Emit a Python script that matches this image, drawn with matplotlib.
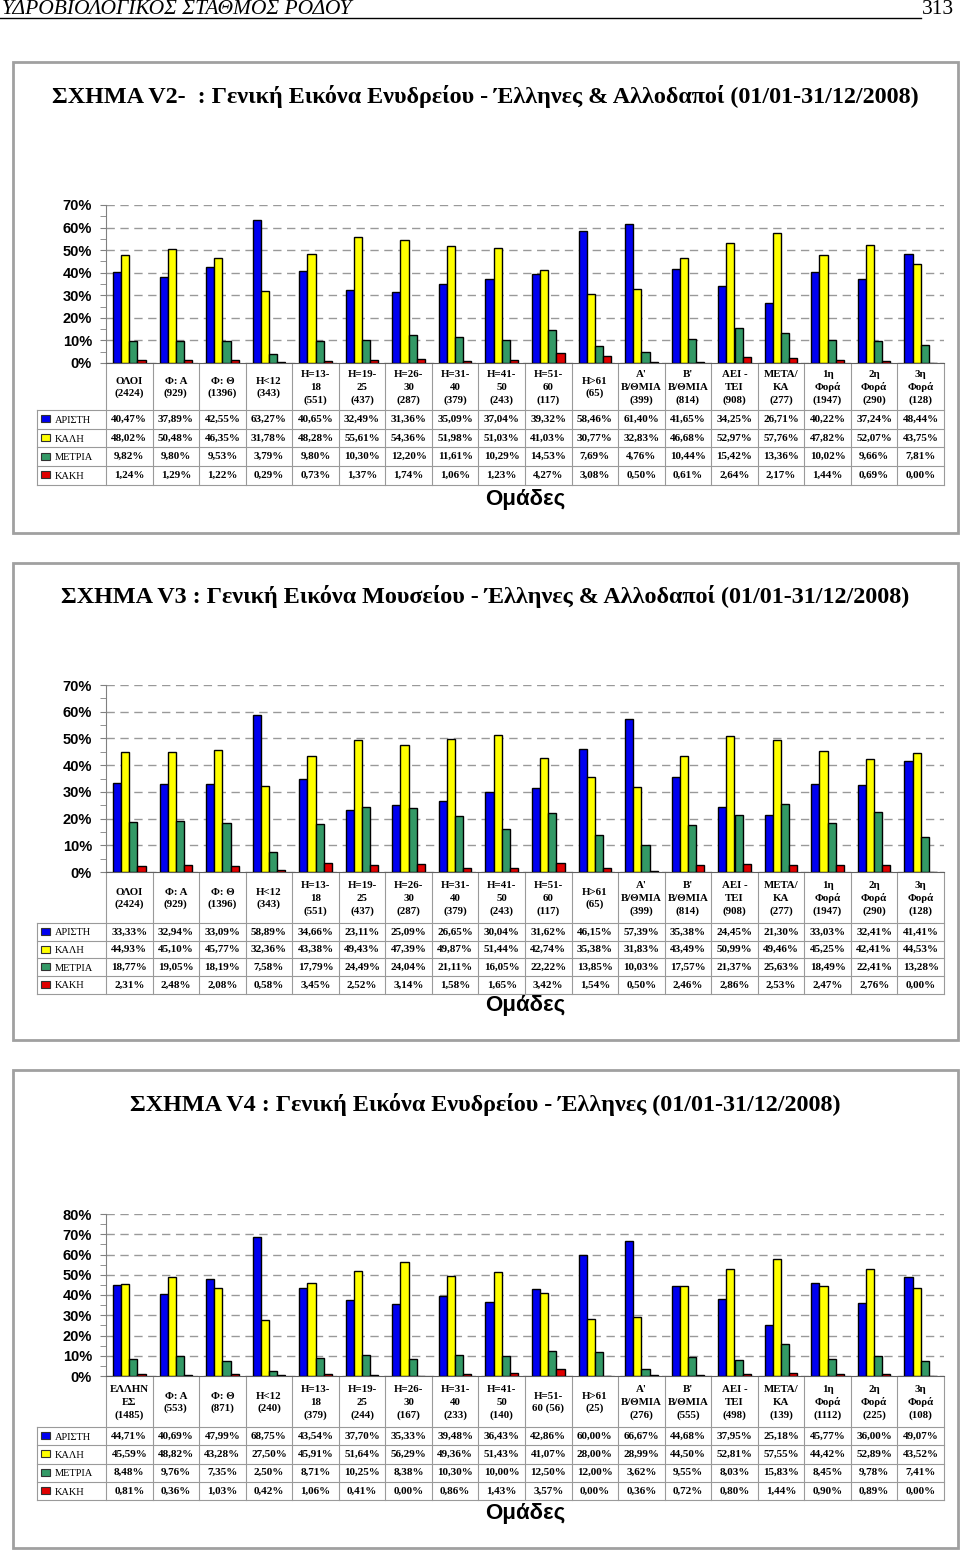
import numpy as np
import matplotlib.pyplot as plt
from matplotlib.patches import Rectangle

W, H = 960, 1550

rows = ["ΑΡΙΣΤΗ", "ΚΑΛΗ", "ΜΕΤΡΙΑ", "ΚΑΚΗ"]
colors = ["#0000F0", "#FFFF00", "#339966", "#E00000"]

# ---- ΣΧΗΜΑ V2 (Ενυδρείο, Έλληνες & Αλλοδαποί)
cats_v2 = ["ΟΛΟΙ\n(2424)", "Φ: Α\n(929)", "Φ: Θ\n(1396)", "Η<12\n(343)",
           "Η=13-\n18\n(551)", "Η=19-\n25\n(437)", "Η=26-\n30\n(287)",
           "Η=31-\n40\n(379)", "Η=41-\n50\n(243)", "Η=51-\n60\n(117)",
           "Η>61\n(65)", "Α'\nΒ/ΘΜΙΑ\n(399)", "Β'\nΒ/ΘΜΙΑ\n(814)",
           "ΑΕΙ -\nΤΕΙ\n(908)", "ΜΕΤΑ/\nΚΑ\n(277)", "1η\nΦορά\n(1947)",
           "2η\nΦορά\n(290)", "3η\nΦορά\n(128)"]
v2_aristi = [40.47, 37.89, 42.55, 63.27, 40.65, 32.49, 31.36, 35.09, 37.04,
             39.32, 58.46, 61.40, 41.65, 34.25, 26.71, 40.22, 37.24, 48.44]
v2_kali = [48.02, 50.48, 46.35, 31.78, 48.28, 55.61, 54.36, 51.98, 51.03,
           41.03, 30.77, 32.83, 46.68, 52.97, 57.76, 47.82, 52.07, 43.75]
v2_metria = [9.82, 9.80, 9.53, 3.79, 9.80, 10.30, 12.20, 11.61, 10.29,
             14.53, 7.69, 4.76, 10.44, 15.42, 13.36, 10.02, 9.66, 7.81]
v2_kaki = [1.24, 1.29, 1.22, 0.29, 0.73, 1.37, 1.74, 1.06, 1.23,
           4.27, 3.08, 0.50, 0.61, 2.64, 2.17, 1.44, 0.69, 0.00]

# ---- ΣΧΗΜΑ V3 (Μουσείο, Έλληνες & Αλλοδαποί)
cats_v3 = cats_v2
v3_aristi = [33.33, 32.94, 33.09, 58.89, 34.66, 23.11, 25.09, 26.65, 30.04,
             31.62, 46.15, 57.39, 35.38, 24.45, 21.30, 33.03, 32.41, 41.41]
v3_kali = [44.93, 45.10, 45.77, 32.36, 43.38, 49.43, 47.39, 49.87, 51.44,
           42.74, 35.38, 31.83, 43.49, 50.99, 49.46, 45.25, 42.41, 44.53]
v3_metria = [18.77, 19.05, 18.19, 7.58, 17.79, 24.49, 24.04, 21.11, 16.05,
             22.22, 13.85, 10.03, 17.57, 21.37, 25.63, 18.49, 22.41, 13.28]
v3_kaki = [2.31, 2.48, 2.08, 0.58, 3.45, 2.52, 3.14, 1.58, 1.65,
           3.42, 1.54, 0.50, 2.46, 2.86, 2.53, 2.47, 2.76, 0.00]

# ---- ΣΧΗΜΑ V4 (Ενυδρείο, Έλληνες)
cats_v4 = ["ΕΛΛΗΝ\nΕΣ\n(1485)", "Φ: Α\n(553)", "Φ: Θ\n(871)", "Η<12\n(240)",
           "Η=13-\n18\n(379)", "Η=19-\n25\n(244)", "Η=26-\n30\n(167)",
           "Η=31-\n40\n(233)", "Η=41-\n50\n(140)", "Η=51-\n60 (56)",
           "Η>61\n(25)", "Α'\nΒ/ΘΜΙΑ\n(276)", "Β'\nΒ/ΘΜΙΑ\n(555)",
           "ΑΕΙ -\nΤΕΙ\n(498)", "ΜΕΤΑ/\nΚΑ\n(139)", "1η\nΦορά\n(1112)",
           "2η\nΦορά\n(225)", "3η\nΦορά\n(108)"]
v4_aristi = [44.71, 40.69, 47.99, 68.75, 43.54, 37.70, 35.33, 39.48, 36.43,
             42.86, 60.00, 66.67, 44.68, 37.95, 25.18, 45.77, 36.00, 49.07]
v4_kali = [45.59, 48.82, 43.28, 27.50, 45.91, 51.64, 56.29, 49.36, 51.43,
           41.07, 28.00, 28.99, 44.50, 52.81, 57.55, 44.42, 52.89, 43.52]
v4_metria = [8.48, 9.76, 7.35, 2.50, 8.71, 10.25, 8.38, 10.30, 10.00,
             12.50, 12.00, 3.62, 9.55, 8.03, 15.83, 8.45, 9.78, 7.41]
v4_kaki = [0.81, 0.36, 1.03, 0.42, 1.06, 0.41, 0.00, 0.86, 1.43,
           3.57, 0.00, 0.36, 0.72, 0.80, 1.44, 0.90, 0.89, 0.00]

SERIF = "Liberation Serif"
SANS = "Liberation Sans"
LINE = "#9a9a9a"

fig = plt.figure(figsize=(W / 100, H / 100), dpi=100)
bg = fig.add_axes([0, 0, 1, 1])
bg.set_xlim(0, W)
bg.set_ylim(H, 0)
bg.axis("off")

# page header
bg.text(2, 9, "ΥΔΡΟΒΙΟΛΟΓΙΚΟΣ ΣΤΑΘΜΟΣ ΡΟΔΟΥ", family=SERIF, style="italic",
        fontsize=15.5, ha="left", va="center")
bg.text(954, 9, "313", family=SERIF, fontsize=15.5, ha="right", va="center")
bg.plot([0, 921], [18, 18], color="black", lw=1)


def panel(top, bottom, title, title_y, cats, series, ymax, y_top, y_zero,
          hdr_bot, row_h, grp_y):
    x_l, x_r = 106, 944
    n = len(cats)
    colw = (x_r - x_l) / n

    # frame
    bg.add_patch(Rectangle((13, top), 945, bottom - top, fill=False,
                           edgecolor="#a0a0a0", lw=2))
    bg.text(485, title_y, title, family=SERIF, weight="bold", fontsize=17.4,
            ha="center", va="center")

    ax = fig.add_axes([x_l / W, 1 - y_zero / H, (x_r - x_l) / W,
                       (y_zero - y_top) / H])
    ax.patch.set_alpha(0)
    x = np.arange(n)
    w = 0.175
    for k, (vals, c) in enumerate(zip(series, colors)):
        ax.bar(x + (k - 1.5) * w, vals, w, color=c, edgecolor="black",
               linewidth=1, zorder=3)
    ax.set_xlim(-0.5, n - 0.5)
    ax.set_ylim(0, ymax)
    ticks = np.arange(0, ymax + 1, 10)
    ax.set_yticks(ticks)
    ax.set_yticklabels([f"{t}%" for t in ticks], family=SANS,
                       weight="bold", fontsize=10.5)
    ax.set_yticks(np.arange(5, ymax, 10), minor=True)
    ax.tick_params(axis="y", which="both", length=4, color="#808080", pad=6)
    ax.set_xticks([])
    ax.yaxis.grid(True, ls=(0, (6, 4)), color="#999999", lw=1, zorder=0)
    for s in ["top", "right"]:
        ax.spines[s].set_visible(False)
    ax.spines["left"].set_color("#808080")
    ax.spines["bottom"].set_color("#606060")

    # data table
    tb = hdr_bot + 4 * row_h
    for i in range(n + 1):
        xx = x_l + i * colw
        bg.plot([xx, xx], [y_zero, tb], color=LINE, lw=0.8)
    bg.plot([37, 37], [hdr_bot, tb], color=LINE, lw=0.8)
    for r in range(5):
        yy = hdr_bot + r * row_h
        bg.plot([37, x_r], [yy, yy], color=LINE, lw=0.8)
    for i, c in enumerate(cats):
        bg.text(x_l + (i + 0.5) * colw, (y_zero + hdr_bot) / 2 + 1, c,
                family=SERIF, weight="bold", fontsize=7.8, ha="center",
                va="center", linespacing=1.45)
    for r, (name, vals, c) in enumerate(zip(rows, series, colors)):
        yc = hdr_bot + (r + 0.5) * row_h
        bg.add_patch(Rectangle((41, yc - 4), 9, 7, facecolor=c,
                               edgecolor="#303030", lw=0.8))
        bg.text(55, yc + 1, name, family=SERIF, fontsize=7.5, ha="left",
                va="center")
        for i, v in enumerate(vals):
            s = f"{v:.2f}".replace(".", ",") + "%"
            bg.text(x_l + (i + 0.5) * colw, yc, s, family=SERIF,
                    weight="bold", fontsize=8, ha="center", va="center")

    bg.text(525, grp_y, "Ομάδες", family=SANS, weight="bold", fontsize=16,
            ha="center", va="center")


panel(62, 533,
      "ΣΧΗΜΑ V2-  : Γενική Εικόνα Ενυδρείου - Έλληνες & Αλλοδαποί (01/01-31/12/2008)",
      96, cats_v2, [v2_aristi, v2_kali, v2_metria, v2_kaki],
      70, 205, 363, 410, 18.7, 499)

panel(563, 1040,
      "ΣΧΗΜΑ V3 : Γενική Εικόνα Μουσείου - Έλληνες & Αλλοδαποί (01/01-31/12/2008)",
      596, cats_v3, [v3_aristi, v3_kali, v3_metria, v3_kaki],
      70, 685, 872, 923, 17.7, 1006)

panel(1070, 1548,
      "ΣΧΗΜΑ V4 : Γενική Εικόνα Ενυδρείου - Έλληνες (01/01-31/12/2008)",
      1104, cats_v4, [v4_aristi, v4_kali, v4_metria, v4_kaki],
      80, 1214, 1376, 1427, 18.3, 1513)

fig.savefig("out.png", dpi=100)
